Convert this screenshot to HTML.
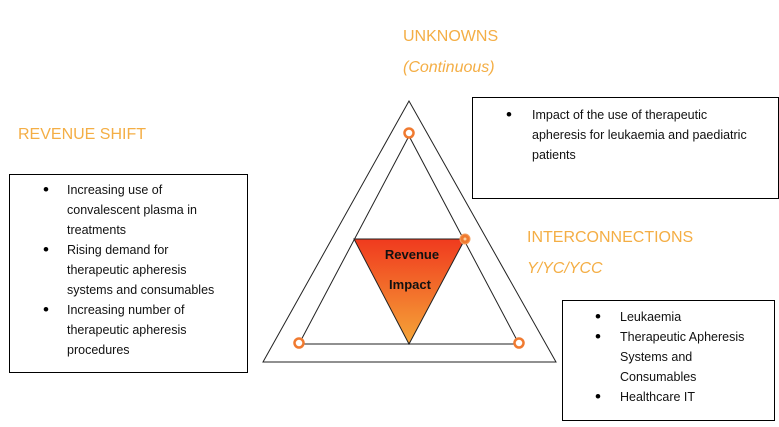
<!DOCTYPE html>
<html><head><meta charset="utf-8"><style>
html,body{margin:0;padding:0;background:#fff;width:779px;height:427px;overflow:hidden}
svg text{font-family:"Liberation Sans",sans-serif}
.b{font-size:12.5px;fill:#111}
.d{font-size:17px;fill:#000}
.o{fill:#f4ae45;font-size:16px}
</style></head><body>
<svg width="779" height="427" viewBox="0 0 779 427" xmlns="http://www.w3.org/2000/svg">
<defs>
<linearGradient id="g" x1="0" y1="0" x2="0" y2="1">
<stop offset="0" stop-color="#f03a1e"/><stop offset="1" stop-color="#f5a638"/>
</linearGradient>
</defs>
<text class="o" x="403" y="41">UNKNOWNS</text>
<text class="o" x="403" y="72" font-style="italic">(Continuous)</text>
<text class="o" x="18" y="139">REVENUE SHIFT</text>
<text class="o" x="527" y="242">INTERCONNECTIONS</text>
<text class="o" x="527" y="273" font-style="italic">Y/YC/YCC</text>

<polygon points="409,101 263,362 556,362" fill="none" stroke="#222" stroke-width="1"/>
<polygon points="409,136 299,344 519,344" fill="none" stroke="#222" stroke-width="1"/>
<polygon points="354,239 465,239 409,344" fill="url(#g)" stroke="#222" stroke-width="1"/>
<text x="412" y="259" text-anchor="middle" font-weight="bold" font-size="13" fill="#111">Revenue</text>
<text x="410" y="289" text-anchor="middle" font-weight="bold" font-size="13" fill="#111">Impact</text>
<circle cx="409" cy="133" r="4.5" fill="#fff" stroke="#f07a30" stroke-width="2.5"/>
<circle cx="465" cy="239" r="5" fill="#f07a30" stroke="#f5a060" stroke-width="1"/>
<circle cx="465" cy="239" r="1.5" fill="#fbd0a0"/>
<circle cx="299" cy="343" r="4.5" fill="#fff" stroke="#f07a30" stroke-width="2.5"/>
<circle cx="519" cy="343" r="4.5" fill="#fff" stroke="#f07a30" stroke-width="2.5"/>

<rect x="9.5" y="174.5" width="238" height="198" fill="none" stroke="#000"/>
<g class="d">
<text x="43" y="195">•</text><text x="43" y="255">•</text><text x="43" y="315">•</text>
<text x="506" y="120">•</text>
<text x="595" y="322">•</text><text x="595" y="342">•</text><text x="595" y="402">•</text>
</g>
<g class="b">
<text x="67" y="194">Increasing use of</text>
<text x="67" y="214">convalescent plasma in</text>
<text x="67" y="234">treatments</text>
<text x="67" y="254">Rising demand for</text>
<text x="67" y="274">therapeutic apheresis</text>
<text x="67" y="294">systems and consumables</text>
<text x="67" y="314">Increasing number of</text>
<text x="67" y="334">therapeutic apheresis</text>
<text x="67" y="354">procedures</text>
</g>

<rect x="472.5" y="97.5" width="306" height="101" fill="none" stroke="#000"/>
<g class="b">
<text x="532" y="119">Impact of the use of therapeutic</text>
<text x="532" y="139">apheresis for leukaemia and paediatric</text>
<text x="532" y="159">patients</text>
</g>

<rect x="562.5" y="300.5" width="212" height="120" fill="none" stroke="#000"/>
<g class="b">
<text x="620" y="321">Leukaemia</text>
<text x="620" y="341">Therapeutic Apheresis</text>
<text x="620" y="361">Systems and</text>
<text x="620" y="381">Consumables</text>
<text x="620" y="401">Healthcare IT</text>
</g>
</svg>
</body></html>
